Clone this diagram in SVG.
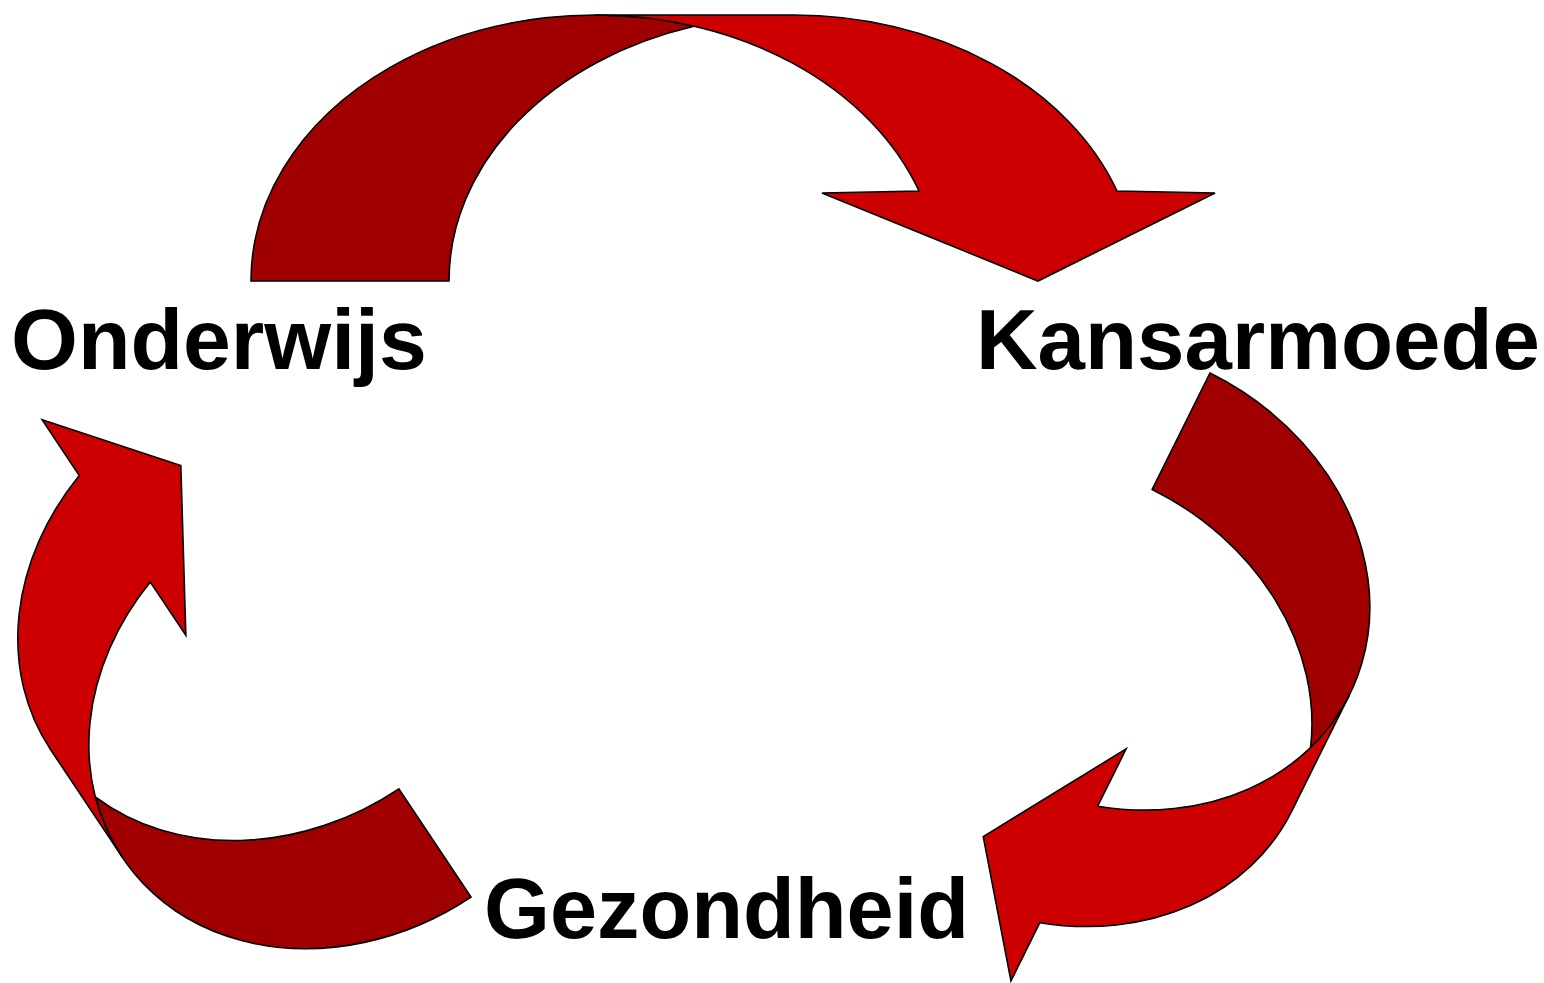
<svg xmlns="http://www.w3.org/2000/svg" width="1544" height="983" viewBox="0 0 1544 983">
<style>
.dark{fill:#A00000;stroke:#000;stroke-width:1.6;stroke-linejoin:miter}
.bright{fill:#CC0000;stroke:#000;stroke-width:1.6;stroke-linejoin:miter}
.lbl{font-family:"Liberation Sans",Arial,sans-serif;font-weight:bold;font-size:86px;fill:#000}
</style>
<rect width="1544" height="983" fill="#fff"/>
<g id="connectors">
  <g id="arrow-onderwijs-kansarmoede" transform="translate(251,281)">
    <path class="dark" d="M0,0 A344,266 0 0 1 443,-254.7 A344,266 0 0 0 198,0 Z"/>
    <path class="bright" d="M344,-266 L542,-266 A344,266 0 0 1 866,-90 L964,-88 L787,0 L571,-88 L668,-90 A344,266 0 0 0 344,-266 Z"/>
  </g>
  <g id="arrow-kansarmoede-gezondheid" transform="translate(1210,373) rotate(116.4)">
    <path class="dark" d="M0,0 A226,268 0 0 1 291,-256.7 A226,268 0 0 0 130,0 Z"/>
    <path class="bright" d="M226,-268 L356,-268 A226,268 0 0 1 568,-92 L633,-92 L516,-3 L374,-92 L438,-92 A226,268 0 0 0 226,-268 Z"/>
  </g>
  <g id="arrow-gezondheid-onderwijs" transform="translate(471,897) rotate(-123.7)">
    <path class="dark" d="M0,0 A226,268 0 0 1 291,-256.7 A226,268 0 0 0 130,0 Z"/>
    <path class="bright" d="M226,-268 L356,-268 A226,268 0 0 1 568,-92 L635,-92 L520,-2 L376,-92 L440,-92 A226,268 0 0 0 226,-268 Z"/>
  </g>
</g>
<g id="node-onderwijs"><text class="lbl" x="11" y="369">Onderwijs</text></g>
<g id="node-kansarmoede"><text class="lbl" x="976" y="369" textLength="564" lengthAdjust="spacingAndGlyphs">Kansarmoede</text></g>
<g id="node-gezondheid"><text class="lbl" x="484" y="938" textLength="485" lengthAdjust="spacingAndGlyphs">Gezondheid</text></g>
</svg>
